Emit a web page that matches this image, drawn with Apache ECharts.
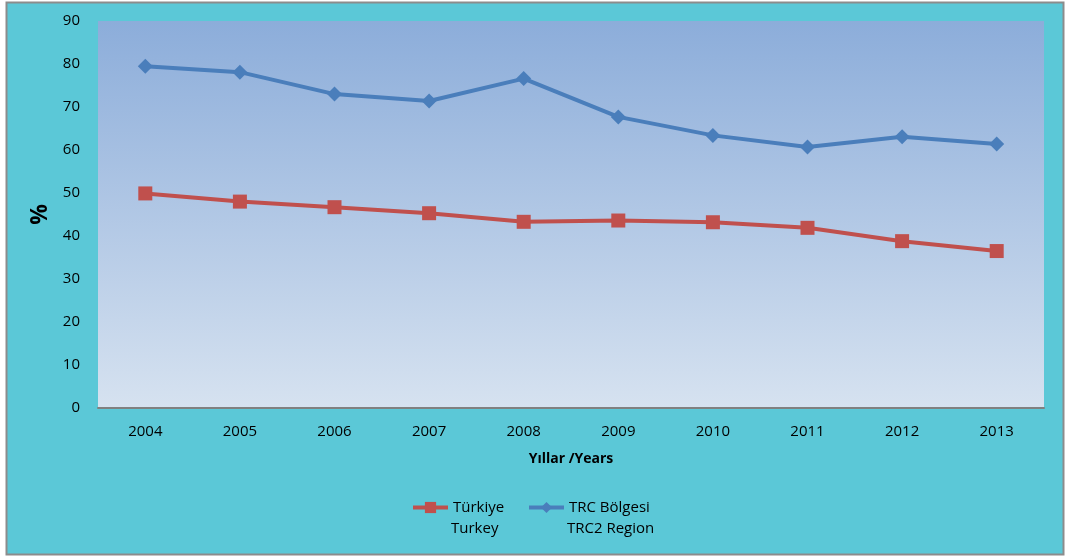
<!DOCTYPE html>
<html>
<head>
<meta charset="utf-8">
<script src="https://cdn.jsdelivr.net/npm/echarts@6/dist/echarts.min.js"></script>
<style>
html,body{margin:0;padding:0;background:#ffffff;}
#chart{width:1066px;height:556px;}
</style>
</head>
<body>
<div id="chart"></div>
<script>
const years = ['2004','2005','2006','2007','2008','2009','2010','2011','2012','2013'];
const turkey = [49.9, 48.0, 46.7, 45.3, 43.3, 43.6, 43.2, 41.9, 38.8, 36.5];
const trc2 = [79.5, 78.1, 73.0, 71.4, 76.6, 67.7, 63.4, 60.7, 63.1, 61.4];
const seriesNames = ['Türkiye', 'TRC Bölgesi'];
const seriesNamesEn = ['Turkey', 'TRC2 Region'];
const xAxisTitle = 'Yıllar /Years';
const yAxisTitle = '%';

const font = 'Open Sans';
const legendLeft = [411, 527];
const legendText = {fontFamily: font, fontSize: 15, color: '#000'};
const chart = echarts.init(document.getElementById('chart'));
chart.setOption({
  animation: false,
  backgroundColor: 'transparent',
  graphic: [{
    type: 'rect', z: -10, silent: true,
    shape: {x: 6.5, y: 2.5, width: 1057, height: 552},
    style: {fill: '#5BC8D7', stroke: '#8C8C8C', lineWidth: 2}
  }].concat(seriesNamesEn.map((t, i) => ({
    type: 'text', silent: true,
    left: legendLeft[i] + 40, top: 521,
    style: {text: t, font: '15px "' + font + '"', fill: '#000'}
  }))),
  grid: {
    left: 98, right: 22, top: 21, bottom: 148, show: true, borderWidth: 0,
    backgroundColor: new echarts.graphic.LinearGradient(0, 0, 0, 1, [
      {offset: 0, color: '#8CADDA'},
      {offset: 1, color: '#D6E2F0'}
    ])
  },
  legend: seriesNames.map((n, i) => ({
    left: legendLeft[i], top: 500, padding: 0, itemWidth: 35, itemHeight: 14, itemGap: 4,
    lineStyle: {width: 4},
    data: [n], textStyle: legendText
  })),
  xAxis: {
    type: 'category', data: years, boundaryGap: true,
    name: xAxisTitle, nameLocation: 'middle', nameGap: 44,
    nameTextStyle: {fontFamily: font, fontSize: 14, fontWeight: 'bold', color: '#000'},
    axisLine: {lineStyle: {color: '#808080', width: 2}},
    axisTick: {show: false},
    axisLabel: {fontFamily: font, fontSize: 15, color: '#000', margin: 16}
  },
  yAxis: {
    type: 'value', min: 0, max: 90, interval: 10,
    name: yAxisTitle, nameLocation: 'middle', nameGap: 40, nameRotate: 90,
    nameTextStyle: {fontFamily: font, fontSize: 23, fontWeight: 'bold', color: '#000'},
    axisLine: {show: false}, axisTick: {show: false}, splitLine: {show: false},
    axisLabel: {fontFamily: font, fontSize: 15, color: '#000', margin: 18}
  },
  series: [
    {
      name: seriesNames[0], type: 'line', data: turkey,
      symbol: 'rect', symbolSize: 14,
      itemStyle: {color: '#C0504D'},
      lineStyle: {color: '#C0504D', width: 4}
    },
    {
      name: seriesNames[1], type: 'line', data: trc2,
      symbol: 'diamond', symbolSize: 15,
      itemStyle: {color: '#4A7EBB'},
      lineStyle: {color: '#4A7EBB', width: 4}
    }
  ]
});
</script>
</body>
</html>
